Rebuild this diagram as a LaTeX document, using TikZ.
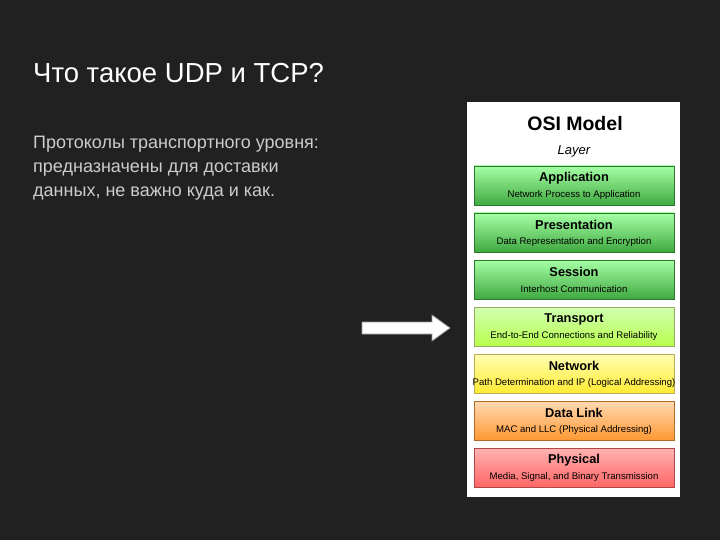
\documentclass[tikz,border=0pt]{standalone}
\usepackage{fontspec}
\setmainfont{Liberation Sans}
\begin{document}
\begin{tikzpicture}[x=1pt,y=-1pt]
\fill[fill=black!87] (0,0) rectangle (720,540);
\useasboundingbox (0,0) rectangle (720,540);
\node[anchor=west, text=white, inner sep=0pt, font=\fontsize{27.5}{30}\selectfont] (title) at (33,73) {Что такое UDP и TCP?};
\node[anchor=north west, text=black!20, inner sep=0pt, align=left, font=\fontsize{18}{24}\selectfont] (body) at (33,136)
 {Протоколы транспортного уровня:\\предназначены для доставки\\данных, не важно куда и как.};
\fill[white] (467,102) rectangle (680,497);
\node[font=\bfseries\fontsize{19.5}{22}\selectfont] (osi) at (575,124) {OSI Model};
\node[font=\itshape\fontsize{13}{15}\selectfont] (lay) at (574,151) {Layer};
\newcommand{\lay}[6]{%
 \shade[top color=#4, bottom color=#5] (474,#2) rectangle (674,#2+39);
 \draw[#5!70!black, line width=0.4pt] (474,#2) rectangle (674,#2+39);
 \node[font=\bfseries\fontsize{12.8}{14}\selectfont] (#6) at (574,#2+12) {#1};
 \node[font=\fontsize{9.6}{12}\selectfont] (#6s) at (574,#2+29) {#3};}
\lay{Application}{166}{Network Process to Application}{green!35!white}{green!55!black!75!white}{app}
\lay{Presentation}{213}{Data Representation and Encryption}{green!35!white}{green!55!black!75!white}{pres}
\lay{Session}{260}{Interhost Communication}{green!35!white}{green!55!black!75!white}{ses}
\lay{Transport}{307}{End-to-End Connections and Reliability}{yellow!40!green!30!white}{yellow!60!green!70!white}{tra}
\lay{Network}{354}{Path Determination and IP (Logical Addressing)}{yellow!30!white}{yellow!80!orange!80!white}{net}
\lay{Data Link}{401}{MAC and LLC (Physical Addressing)}{orange!30!white}{orange!80!white}{dl}
\lay{Physical}{448}{Media, Signal, and Binary Transmission}{red!30!white}{red!60!white}{phy}
\draw[fill=white, draw=black!40, line width=0.8pt] (362,322) -- (432,322) -- (432,315) -- (450,328) -- (432,341) -- (432,334) -- (362,334) -- cycle;
\end{tikzpicture}
\end{document}
